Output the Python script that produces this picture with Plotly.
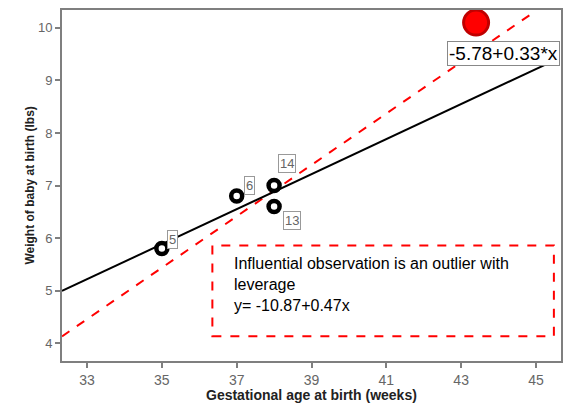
import numpy as np
import plotly.graph_objects as go

# ---- data ----
gest_weeks = [35, 37, 38, 38]
weight_lbs = [5.8, 6.8, 7.0, 6.6]
case_ids = ["5", "6", "14", "13"]
outlier_week = [43.4]
outlier_weight = [10.1]

fit_span = [32.33, 45.24]          # extent of the solid fit line
dashed_coef = [-11.68, 0.489]      # drawn line (intercept, slope)
dashed_span = [32.33, 44.84]

fit_label = "-5.78+0.33*x"
note_lines = ["Influential observation is an outlier with", "leverage", "y= -10.87+0.47x"]

x_ticks = [33, 35, 37, 39, 41, 43, 45]
y_ticks = [4, 5, 6, 7, 8, 9, 10]

# ---- fit ----
slope, intercept = np.polyfit(gest_weeks, weight_lbs, 1)
fx = np.array(fit_span)
fy = intercept + slope * fx
dx = np.array(dashed_span)
dy = dashed_coef[0] + dashed_coef[1] * dx

FONT = "Arial, Liberation Sans, sans-serif"
GREY = "#7f7f7f"

fig = go.Figure()
fig.add_trace(go.Scatter(x=dx, y=dy, mode="lines",
                         line=dict(color="#ff0000", width=2, dash="dash"), hoverinfo="skip"))
fig.add_trace(go.Scatter(x=fx, y=fy, mode="lines",
                         line=dict(color="black", width=2), hoverinfo="skip"))
fig.add_trace(go.Scatter(x=gest_weeks, y=weight_lbs, mode="markers",
                         marker=dict(symbol="circle", size=11, color="white",
                                     line=dict(color="black", width=4.5))))
fig.add_trace(go.Scatter(x=outlier_week, y=outlier_weight, mode="markers",
                         marker=dict(symbol="circle", size=25, color="#ff0000",
                                     line=dict(color="#c00000", width=3))))

# point labels
shifts = {"5": (11, 9), "6": (13, 11), "14": (13, 22), "13": (18, -14)}
for xv, yv, lab in zip(gest_weeks, weight_lbs, case_ids):
    sx, sy = shifts[lab]
    fig.add_annotation(x=xv, y=yv, text=lab, showarrow=False, xshift=sx, yshift=sy,
                       font=dict(family=FONT, size=13, color="#666666"),
                       bordercolor="#999999", borderwidth=1, borderpad=1, bgcolor="white")

# fit equation box
fig.add_annotation(x=44.12, y=9.52, text=fit_label, showarrow=False,
                   font=dict(family=FONT, size=19, color="black"),
                   bordercolor="#888888", borderwidth=1, borderpad=1, bgcolor="white")

# dashed note box
fig.add_shape(type="rect", x0=36.35, x1=45.48, y0=4.13, y1=5.86,
              line=dict(color="#ff0000", width=2, dash="dash"))
fig.add_annotation(x=36.885, y=5.72, xanchor="left", yanchor="top", align="left",
                   text="<br>".join(note_lines), showarrow=False,
                   font=dict(family=FONT, size=16, color="black"))

# axis titles
fig.add_annotation(xref="paper", yref="paper", x=0.5, y=-0.096, yanchor="middle",
                   text="<b>Gestational age at birth (weeks)</b>", showarrow=False,
                   font=dict(family=FONT, size=14, color="#222222"))
fig.add_annotation(xref="paper", yref="paper", x=-0.084, y=0.5, textangle=-90,
                   text="<b>Weight of baby at birth (lbs)</b>", showarrow=False,
                   font=dict(family=FONT, size=12, color="#222222"))

fig.update_layout(
    width=571, height=405, showlegend=False,
    margin=dict(l=62, r=8, t=8, b=44),
    paper_bgcolor="white", plot_bgcolor="white",
    font=dict(family=FONT),
    xaxis=dict(range=[32.33, 45.67], tickvals=x_ticks, showgrid=False, zeroline=False,
               showline=True, mirror=True, linecolor=GREY, linewidth=2,
               ticks="outside", ticklen=5, tickcolor=GREY, tickwidth=2,
               tickfont=dict(family=FONT, size=14, color="#666666")),
    yaxis=dict(range=[3.66, 10.34], tickvals=y_ticks, showgrid=False, zeroline=False,
               showline=True, mirror=True, linecolor=GREY, linewidth=2,
               ticks="outside", ticklen=5, tickcolor=GREY, tickwidth=2,
               tickfont=dict(family=FONT, size=13, color="#666666")),
)

fig.write_html("out.html")
